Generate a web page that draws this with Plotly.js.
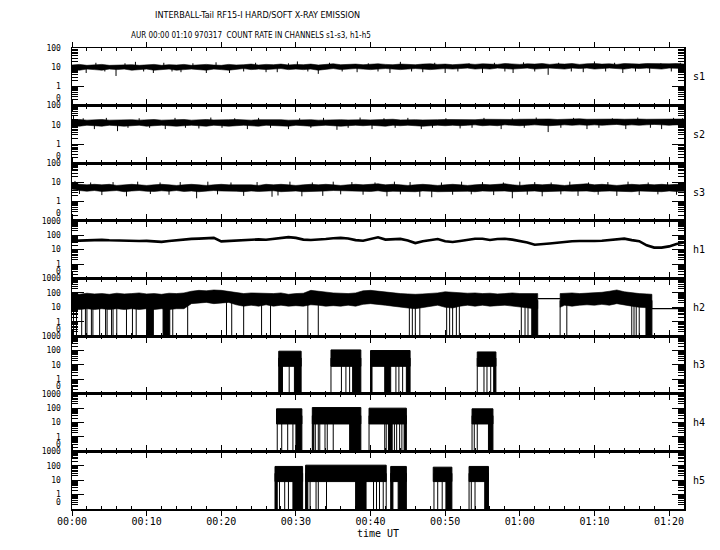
<!DOCTYPE html>
<html><head><meta charset="utf-8">
<script src="https://cdn.plot.ly/plotly-3.0.1.min.js"></script>
<style>html,body{margin:0;padding:0;background:#fff}</style>
</head><body><div id="chart" style="width:720px;height:550px"></div>
<script>
// ---------------- DATA (minutes after 00:00 UT, count rates) ----------------
const minutes = [0,1,2,3,4,5,6,7,8,9,10,11,12,13,14,15,16,17,18,19,20,21,22,23,24,25,26,27,28,29,30,31,32,33,34,35,36,37,38,39,40,41,42,43,44,45,46,47,48,49,50,51,52,53,54,55,56,57,58,59,60,61,62,63,64,65,66,67,68,69,70,71,72,73,74,75,76,77,78,79,80,81,82];
const xTickVals = [0,10,20,30,40,50,60,70,80];
const xTickText = ['00:00','00:10','00:20','00:30','00:40','00:50','01:00','01:10','01:20'];
const channels = ['s1','s2','s3','h1','h2','h3','h4','h5'];

const s1Low  = [7.5,7,8,7.5,7,8,7.5,8,7,7.5, 8,7,7.5,8,7,7.5,8,7.5,7,8, 7.5,7,8,8.5,7.5,8,7.5,8,8.5,7.5, 8,7.5,8,7,8,8.5,7.5,8,8.5,8, 7.5,8,8.5,8,7.5,8,8.5,8,7.5,8, 8.5,8,8.5,9,8,8.5,8,9,8.5,8, 8.5,9,8,8.5,9,8.5,8,9,8.5,9, 8,8.5,9,8.5,8,9,8.5,9,8.5,8, 9,8.5,8.5];
const s1High = [13,14,12.5,13.5,14,12.5,13,14,13.5,12.5, 13,14,12.5,13.5,13,14,12.5,13.5,14,13, 12.5,14,13,13.5,14.5,13,14,13.5,14.5,13, 14,13.5,14.5,13,14,15,13.5,14,14.5,13.5, 14,15,14,13.5,14.5,14,13.5,14.5,15,14, 14.5,13.5,14.5,15,14,15,14.5,14,15.5,14.5, 14,15,14.5,15.5,14,15,14.5,15.5,14,15, 15.5,14.5,15,14,15.5,15,14.5,15.5,15,14.5, 15,15.5,14.5];
const s1SpikeT = [1.9,3.2,4.4,5.9,7.1,8.5,9.6,10.9,12.3,13.4,14.6,16.2,18.0,19.3,21.1,23.0,24.6,26.0,27.5,29.0,30.2,31.6,33.0,34.5,36.2,38.2,39.7,41.0,42.6,44.0,45.5,47.0,48.6,50.0,51.7,53.2,55.0,56.6,58.0,59.1,60.5,62.0,63.8,65.2,66.9,68.5,70.0,71.5,72.7,73.8,75.5,77.4,78.9,80.3,81.5];
const s1SpikeV = [5,17,6,3.5,16,19,6,5,17,6,5.5,16,5,18,5,6,17,5.5,5.5,16,20,6,4.5,17,6,5.5,16,6,5,19,6,5.5,17,5,6,16,5,17,6,5,18,6,4,17,6,5.5,20,6,17,5,6,5,16,6,17];

const s2Low  = [9,8.5,9.5,9,8.5,9.5,9,8.5,9,9.5, 8.5,9,9.5,9,8.5,9,9.5,9,8.5,9.5, 9,8.5,9,9.5,9,8.5,9.5,9,9,8.5, 9.5,9,8.5,9,9.5,9,8.5,9,9.5,9, 9.5,9,8.5,9.5,9,9.5,9,8.5,9,9.5, 9,9.5,9,9.5,10,9,9.5,9,10,9.5, 9,9.5,10,9.5,9,9.5,10,9.5,10,9.5, 10,9.5,10,10.5,9.5,10,9.5,10,10.5,10, 9.5,10,10];
const s2High = [18,19,17.5,18.5,19,17.5,18,19,18.5,17.5, 18,19,17.5,18,18.5,19,17.5,18.5,19,18, 17.5,18.5,19,18,17.5,18.5,19,18,18.5,17.5, 18,19,18.5,17.5,18,19,18.5,18,19,18.5, 18,19,18.5,19.5,18,19,18.5,18,19,18.5, 19,18.5,19.5,19,18.5,19.5,19,18.5,19.5,19, 19.5,20,19,19.5,20,19,20,19.5,20.5,19.5, 20,19.5,20.5,20,19.5,20.5,20,19.5,20,20.5, 19.5,20,20];
const s2SpikeT = [0.2,1.5,3.0,4.6,6.1,7.5,9.0,10.4,12.5,13.8,15.2,17.0,18.6,20.1,21.8,23.5,25.0,26.6,29.0,30.5,32.0,33.7,35.5,37.0,38.6,40.2,41.8,43.3,45.0,46.8,48.3,50.1,52.0,53.6,55.2,57.5,59.0,60.6,62.2,63.8,65.5,67.2,69.0,70.6,72.4,74.2,75.8,77.5,79.0,80.6,81.8];
const s2SpikeV = [30,22,6,23,4.7,7,22,7,6,23,7,6.5,24,7,22,6,23,7,6,22,7,23,5.5,7,24,6,22,7,23,6,7,22,6.5,7,23,6,22,7,24,4.2,7,23,6,7,22,6,24,7,6,23,22];

const s3Low  = [4.5,3.8,3.5,3.8,3.4,3.6,3.8,3.3,3.6,3.8, 3.5,3.4,3.7,3.5,3.8,3.4,3.6,3.3,3.5,3.8, 3.6,3.4,3.5,3.3,3.6,3.4,3.5,3.7,3.3,3.5, 3.6,3.3,3.5,3.4,3.6,3.8,3.5,3.4,3.6,3.5, 3.4,3.7,3.3,3.5,3.6,3.4,3.3,3.6,3.5,3.3, 3.5,3.6,3.4,3.5,3.3,3.6,3.5,3.4,3.6,3.3, 3.5,3.4,3.6,3.3,3.5,3.4,3.6,3.5,3.4,3.6, 3.3,3.5,3.6,3.4,3.5,3.3,3.6,3.4,3.5,3.3, 3.6,3.4,3.5];
const s3High = [9.5,8,7.5,8,7.5,8,7,7.5,8,7.5, 7,7.5,8,7.5,7,7.5,8,7.5,7,7.5, 8,7.5,7.5,8,7.5,7,8,7.5,8,7.5, 7,7.5,8,7.5,8,7.5,7,7.5,8,7.5, 8,8.5,7.5,8,7.5,7,7.5,8,7.5,7, 7.5,8,7.5,7,7.5,8,7.5,8,8.5,7.5, 7,7.5,8,7.5,8,7.5,7,7.5,8,8.5, 7.5,8,7.5,7,7.5,8,7.5,8,7.5,8, 7.5,8,7.5];
const s3SpikeT = [1.0,4.0,7.3,10.5,13.0,16.7,19.5,23.0,26.8,27.6,30.8,33.6,36.0,39.0,42.2,44.0,46.6,48.2,51.0,53.5,56.5,59.0,61.0,63.0,65.5,67.8,70.5,73.0,76.0,78.5,81.0,
  0.4,2.5,5.5,8.8,11.8,14.5,18.2,21.3,24.8,29.2,32.2,35.0,37.5,40.6,43.2,45.3,49.5,52.2,55.0,57.8,60.0,62.0,64.2,66.7,69.2,71.8,74.5,77.2,79.8];
const s3SpikeV = [2.5,2.2,1.9,2.5,2.3,1.5,2.4,2.0,1.8,2.1,1.9,2.0,2.4,2.3,1.9,2.4,1.8,1.7,2.3,2.4,2.2,1.5,2.3,1.9,2.4,2.0,2.3,2.0,2.2,2.4,2.3,
  12,10,10.5,11,10,10.5,11,10,10.5,11,10,11,10.5,10,11,10.5,10,11,10.5,10,11,10.5,10,11,10,10.5,11,10,10.5];

const h1Rate = [41,43,45,47,48,45,43,41,39,40, 41,38,35,40,46,51,56,59,65,66, 38,41,45,50,54,52,49,58,67,75, 66,50,47,48,55,62,66,60,46,42, 55,72,50,52,56,44,29,38,48,55, 38,34,40,49,57,57,47,55,58,50, 41,32,22,23,27,30,35,39,40,39, 40,42,46,54,58,46,39,20,14,14, 17,25,32];

const h2Time = [0,1,2,3,4,5,6,7,8,9,10,11,12,13,14,15,16,17,18,19,20,21,22,23,24,25,26,27,28,29,30,31,32,33,34,35,36,37,38,39,40,41,42,43,44,45,46,47,48,49,50,51,52,53,54,55,56,57,58,59,60,61,62,62.4,null,65.4,66,67,68,69,70,71,72,73,74,75,76,77,77.7];
const h2Top  = [90,80,95,85,90,80,95,85,90,100,85,90,80,95,90,100, 130,150,140,160,150,130,110, 90,100,95,85,90,100,80,90,95, 150,130,110,100, 95,90,100, 140,150,130,120,110, 90,85,80,85,90,100, 120,110,100,95, 100,90,95,85,90,100,90,85,90, 90,null,90, 95,100,90,95,100,110,130,160,120,100,90,85, 80];
const h2Low  = [8,7,8,7,8,7,8,7,8,7,8,7,8,7,8,8, 18,20,22,18,20,22,15, 12,14,12,15,12,14,12,13,12, 15,14,12,13, 12,14,12, 16,18,15,14,12, 10,9,8,10,12,14, 10,9,12,14, 12,14,12,13,14,12,10,9,8, 8,null,10, 14,12,14,15,14,16,14,18,15,12,10,9, 9];
const h2GapT = [62.4,65.4,null,77.7,82];
const h2GapV = [40,40,null,8,8];
const h2Drop = [0.2,0.6,1.3,1.8,2.0,2.6,2.8,3.7,4.5,4.7,5.3,5.5,6.0,7.3,8.1,8.6,13.5,15.5,20.7,21.4,23.0,25.4,26.6,31.6,33.0,45.2,45.6,46.0,46.6,50.2,50.6,51.0,51.5,51.9,60.2,60.7,61.1,65.4,66.3,75.0,75.3,75.6,76.0];
const h2DenseS = [10.0,12.2,61.6,76.9];
const h2DenseE = [10.9,13.1,62.4,77.7];

const h3Start = [27.7,34.7,40.0,54.3];
const h3End   = [30.7,38.7,45.3,56.8];
const h3Top   = [90,110,100,80];
const h3Low   = [8,8,8,8];
const h3Drop  = [29.1,34.7,36.1,36.7,37.2,43.4,43.8,44.3,54.3,55.2,55.6,56.1];
const h3DenseS = [27.7,29.8,37.6,40.0,41.9,44.8,56.5];
const h3DenseE = [28.2,30.7,38.7,40.2,42.7,45.3,56.8];

const h4Start = [27.4,32.2,39.8,53.6];
const h4End   = [30.8,38.7,44.8,56.4];
const h4Top   = [90,110,100,90];
const h4Low   = [8,8,8,8];
const h4Drop  = [27.5,28.1,28.9,29.6,32.6,33.0,33.2,33.9,34.2,35.0,39.8,41.9,42.1,43.2,43.5,43.9,44.2,53.6,53.9,54.3];
const h4DenseS = [30.0,32.2,37.2,42.4,44.5,55.8];
const h4DenseE = [30.8,32.4,38.7,42.9,44.8,56.4];

const h5Start = [27.2,31.3,42.7,48.4,53.2];
const h5End   = [30.9,42.1,44.8,50.9,55.8];
const h5Top   = [90,110,90,80,90];
const h5Low   = [8,8,8,8,8];
const h5Drop  = [27.8,28.5,29.0,31.9,32.7,33.0,34.1,40.4,40.8,41.2,41.7,42.1,48.5,49.0,49.6,53.2,53.5,54.0];
const h5DenseS = [27.2,29.6,31.3,38.0,42.7,43.7,50.1,55.3];
const h5DenseE = [27.5,30.9,31.6,39.4,43.0,44.8,50.9,55.8];

// ---------------- helpers ----------------
const L = v => (v === null ? null : (v > 0 ? Math.log10(v) : -1));
const ax = i => (i === 0 ? '' : String(i + 1));
const BLACK = '#000';

function bandTrace(xs, lo, hi, i) {
  const segs = []; let cur = [];
  for (let k = 0; k < xs.length; k++) {
    if (xs[k] === null || lo[k] === null || hi[k] === null) { if (cur.length) segs.push(cur); cur = []; }
    else cur.push(k);
  }
  if (cur.length) segs.push(cur);
  const X = [], Y = [];
  segs.forEach(s => {
    s.forEach(k => { X.push(xs[k]); Y.push(L(hi[k])); });
    s.slice().reverse().forEach(k => { X.push(xs[k]); Y.push(L(lo[k])); });
    X.push(xs[s[0]]); Y.push(L(hi[s[0]]));
    X.push(null); Y.push(null);
  });
  return {type:'scatter', mode:'lines', x:X, y:Y, fill:'toself', fillcolor:BLACK,
    line:{color:BLACK, width:0.6}, xaxis:'x'+ax(i), yaxis:'y'+ax(i), hoverinfo:'skip', showlegend:false};
}
function rectTrace(S, E, lo, hi, i) {
  const X = [], Y = [];
  S.forEach((s, k) => {
    const l = L(Array.isArray(lo) ? lo[k] : lo), h = L(Array.isArray(hi) ? hi[k] : hi);
    X.push(s, E[k], E[k], s, s, null); Y.push(l, l, h, h, l, null);
  });
  return {type:'scatter', mode:'lines', x:X, y:Y, fill:'toself', fillcolor:BLACK,
    line:{color:BLACK, width:1}, xaxis:'x'+ax(i), yaxis:'y'+ax(i), hoverinfo:'skip', showlegend:false};
}
function vlineTrace(T, from, to, i) {
  const X = [], Y = [];
  T.forEach((t, k) => {
    X.push(t, t, null);
    Y.push(L(from), L(Array.isArray(to) ? to[k] : to), null);
  });
  return {type:'scatter', mode:'lines', x:X, y:Y, line:{color:BLACK, width:1},
    xaxis:'x'+ax(i), yaxis:'y'+ax(i), hoverinfo:'skip', showlegend:false};
}
function lineTrace(X, V, i, w) {
  return {type:'scatter', mode:'lines', x:X, y:V.map(L), line:{color:BLACK, width:w},
    connectgaps:false, xaxis:'x'+ax(i), yaxis:'y'+ax(i), hoverinfo:'skip', showlegend:false};
}

// ---------------- traces ----------------
const traces = [];
traces.push(bandTrace(minutes, s1Low, s1High, 0));
traces.push(vlineTrace(s1SpikeT, 10, s1SpikeV, 0));
traces.push(bandTrace(minutes, s2Low, s2High, 1));
traces.push(vlineTrace(s2SpikeT, 13, s2SpikeV, 1));
traces.push(bandTrace(minutes, s3Low, s3High, 2));
traces.push(vlineTrace(s3SpikeT, 5, s3SpikeV, 2));
traces.push(lineTrace(minutes, h1Rate, 3, 2.6));
traces.push(bandTrace(h2Time, h2Low, h2Top, 4));
traces.push(lineTrace(h2GapT, h2GapV, 4, 1.2));
traces.push(vlineTrace(h2Drop, 0, 30, 4));
traces.push(rectTrace(h2DenseS, h2DenseE, 0, 30, 4));
[[h3Start,h3End,h3Top,h3Low,h3Drop,h3DenseS,h3DenseE],
 [h4Start,h4End,h4Top,h4Low,h4Drop,h4DenseS,h4DenseE],
 [h5Start,h5End,h5Top,h5Low,h5Drop,h5DenseS,h5DenseE]].forEach((d, j) => {
  const i = 5 + j;
  traces.push(rectTrace(d[0], d[1], d[3], d[2], i));
  traces.push(vlineTrace(d[4], 0, 30, i));
  traces.push(rectTrace(d[5], d[6], 0, 30, i));
});

// ---------------- layout ----------------
const mono = 'DejaVu Sans Mono, Liberation Mono, monospace';
const tickFont = {family:mono, size:8, color:BLACK};
const layout = {
  width:720, height:550, paper_bgcolor:'#fff', plot_bgcolor:'#fff',
  margin:{l:72, r:36, t:48, b:41},
  font:{family:mono, size:10, color:BLACK},
  showlegend:false, annotations:[]
};
const xMinor = [];
for (let m = 2; m <= 82; m += 2) if (m % 10 !== 0) xMinor.push(m);
channels.forEach((name, i) => {
  const top = name[0] === 's' ? 2 : 3;
  const yvals = [], ytext = [], ymin = [];
  const labels = ['', '1', '10', '100', '1000'];
  for (let d = -1; d <= top; d++) { yvals.push(d); ytext.push(labels[d + 1]); }
  for (let d = -1; d < top; d++) for (let k = 2; k <= 9; k++) ymin.push(d + Math.log10(k));
  layout['xaxis' + ax(i)] = {
    anchor:'y' + ax(i), range:[0, 82], domain:[0, 1],
    matches: i === 0 ? undefined : 'x',
    tickmode:'array', tickvals:xTickVals, ticktext:xTickText,
    showticklabels: i === 7, tickfont:{family:mono, size:10, color:BLACK}, ticklabelstandoff:-3,
    ticks:'outside', ticklen:5, tickwidth:1, tickcolor:BLACK,
    minor:{tickmode:'array', tickvals:xMinor, ticks:'inside', ticklen:3, tickwidth:1, tickcolor:BLACK},
    showline:true, linecolor:BLACK, linewidth:1.5, mirror:'ticks',
    showgrid:false, zeroline:false, fixedrange:true
  };
  layout['yaxis' + ax(i)] = {
    anchor:'x' + ax(i), domain:[1 - (i + 1) / 8, 1 - i / 8], range:[-1, top],
    tickmode:'array', tickvals:yvals, ticktext:ytext, tickfont:tickFont,
    ticks:'inside', ticklen:12, tickwidth:1, tickcolor:BLACK, ticklabelstandoff:8,
    minor:{tickmode:'array', tickvals:ymin, ticks:'inside', ticklen:6, tickwidth:1, tickcolor:BLACK},
    showline:true, linecolor:BLACK, linewidth:1.5, mirror:'ticks',
    showgrid:false, zeroline:false, fixedrange:true
  };
  // the "0" label of each panel sits just above the panel's bottom edge
  layout.annotations.push({text:'0', xref:'paper', yref:'paper', x:0, y:1 - (i + 1) / 8,
    xanchor:'right', yanchor:'middle', xshift:-9, yshift:7, showarrow:false, font:tickFont});
  layout.annotations.push({text:name, xref:'paper', yref:'paper', x:1.0245, y:1 - (i + 0.5) / 8,
    xanchor:'center', yanchor:'middle', showarrow:false, font:{family:mono, size:10, color:BLACK}});
});
const narrow = 'Liberation Sans Narrow, DejaVu Sans Condensed, Liberation Mono, monospace';
layout.annotations.push({text:'INTERBALL-Tail RF15-I HARD/SOFT X-RAY EMISSION', xref:'paper', yref:'paper',
  x:0.3023, y:1.0705, xanchor:'center', yanchor:'middle', showarrow:false,
  font:{family:narrow, size:9, color:BLACK}});
layout.annotations.push({text:'AUR 00:00 01:10 970317\u00a0 COUNT RATE IN CHANNELS s1-s3, h1-h5', xref:'paper', yref:'paper',
  x:0.2925, y:1.027, xanchor:'center', yanchor:'middle', showarrow:false,
  font:{family:narrow, size:8, color:BLACK}});
layout.annotations.push({text:'time UT', xref:'paper', yref:'paper', x:0.4994, y:-0.054,
  xanchor:'center', yanchor:'middle', showarrow:false, font:{family:mono, size:10, color:BLACK}});

Plotly.newPlot('chart', traces, layout, {staticPlot:true, displayModeBar:false});
</script>
</body></html>
